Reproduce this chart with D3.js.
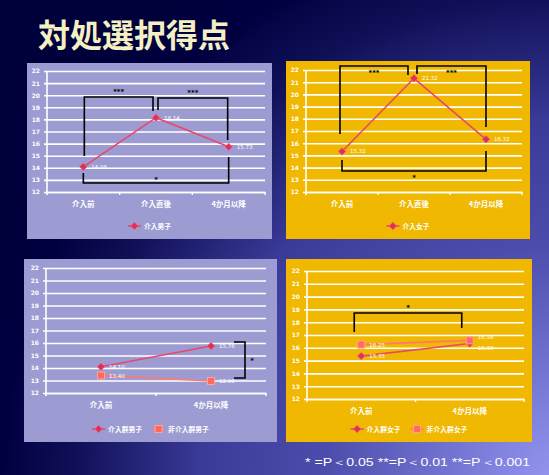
<!DOCTYPE html>
<html><head><meta charset="utf-8">
<script src="https://cdn.jsdelivr.net/npm/d3@7"></script>
<style>html,body{margin:0;padding:0;background:#000040;}svg{display:block;}</style>
</head><body>
<script>
// ---- data ----
const yTicks = [12, 13, 14, 15, 16, 17, 18, 19, 20, 21, 22];
const cats3 = ["介入前", "介入直後", "4か月以降"];
const cats2 = ["介入前", "4か月以降"];
const maleIntervention = [14.08, 18.14, 15.73];
const femaleIntervention = [15.32, 21.32, 16.32];
const maleInterventionGroup = [14.10, 15.76];
const maleControlGroup = [13.40, 12.96];
const femaleInterventionGroup = [15.35, 16.33];
const femaleControlGroup = [16.25, 16.58];
const seriesNames = ["介入男子", "介入女子", "介入群男子", "非介入群男子", "介入群女子", "非介入群女子"];
const title = "対処選択得点";
const footnote = "* =P＜0.05  **=P＜0.01   **=P＜0.001";

const W = 549, H = 475;
const svg = d3.select("body").append("svg").attr("width", W).attr("height", H);
const defs = svg.append("defs");
const rg = defs.append("radialGradient").attr("id", "bg").attr("gradientUnits", "userSpaceOnUse")
  .attr("cx", 560).attr("cy", 480).attr("r", 620);
[[0, "#9696f2"], [0.38, "#4c4cac"], [0.58, "#3a3a98"], [0.78, "#101058"], [0.9, "#000040"], [1, "#00003a"]]
  .forEach(([o, c]) => rg.append("stop").attr("offset", o).attr("stop-color", c));
svg.append("rect").attr("width", W).attr("height", H).attr("fill", "url(#bg)");

svg.append("text").attr("x", 38).attr("y", 47).text(title)
  .attr("font-family", "'Noto Sans CJK JP', sans-serif").attr("font-size", 32).attr("font-weight", 700)
  .attr("fill", "#f4f0c4");

const lavender = "#9c9cd2", gold = "#f0b800";
const redLine = "#e8486a", redMark = "#e0305a";
const sqLine = "#ff7a68", sqFill = "#ff6a5c", sqStroke = "#ffa494";

const panels = [
  { rect: [27, 63, 245, 176], plot: [47, 265, 71, 192], bg: lavender, cats: cats3,
    series: [{ name: seriesNames[0], values: maleIntervention, type: "diamond" }],
    brackets: [
      { c1: 0, d1: 1, e1: 14.98, line: 19.85, c2: 1, d2: -3, e2: 18.69, label: "***", pos: "above" },
      { c1: 1, d1: 2, e1: 18.78, line: 19.77, c2: 2, d2: -1, e2: 16.3, label: "***", pos: "above" },
      { c1: 0, d1: 0, e1: 13.57, line: 12.74, c2: 2, d2: 0, e2: 14.9, label: "*", pos: "on" }
    ] },
  { rect: [286, 61, 244, 178], plot: [306, 522, 70, 192], bg: gold, cats: cats3,
    series: [{ name: seriesNames[1], values: femaleIntervention, type: "diamond" }],
    brackets: [
      { c1: 0, d1: -2, e1: 16.75, line: 22.33, c2: 1, d2: -6, e2: 21.59, label: "***", pos: "below" },
      { c1: 1, d1: 3, e1: 21.67, line: 22.33, c2: 2, d2: 0, e2: 17.33, label: "***", pos: "below" },
      { c1: 0, d1: 0, e1: 14.62, line: 13.72, c2: 2, d2: 0, e2: 15.36, label: "*", pos: "below" }
    ] },
  { rect: [24, 259, 253, 183], plot: [46, 266, 268, 393], bg: lavender, cats: cats2,
    series: [{ name: seriesNames[2], values: maleInterventionGroup, type: "diamond" },
             { name: seriesNames[3], values: maleControlGroup, type: "square" }],
    side: { c: 1, d1: 23, d2: 34, top: 16.08, bottom: 13.2, label: "*" } },
  { rect: [286, 259, 246, 183], plot: [307, 524, 271, 399], bg: gold, cats: cats2,
    series: [{ name: seriesNames[4], values: femaleInterventionGroup, type: "diamond", labelDy: [0, 4] },
             { name: seriesNames[5], values: femaleControlGroup, type: "square", labelDy: [0, -3] }],
    brackets: [
      { c1: 0, d1: -7, e1: 17.23, line: 18.72, c2: 1, d2: -8, e2: 17.55, label: "*", pos: "above" }
    ] }
];

function drawMarker(g, type, x, y) {
  if (type === "diamond") {
    g.append("path").attr("d", d3.symbol().type(d3.symbolSquare).size(28)())
      .attr("transform", `translate(${x},${y}) rotate(45)`).attr("fill", redMark).attr("stroke", "#f0607a").attr("stroke-width", 0.6);
  } else {
    g.append("rect").attr("x", x - 3.5).attr("y", y - 3.5).attr("width", 7).attr("height", 7)
      .attr("fill", sqFill).attr("stroke", sqStroke).attr("stroke-width", 1);
  }
}

panels.forEach(p => {
  const [rx, ry, rw, rh] = p.rect;
  const [x0, x1, yTop, yBot] = p.plot;
  const g = svg.append("g");
  g.append("rect").attr("x", rx).attr("y", ry).attr("width", rw).attr("height", rh).attr("fill", p.bg);

  const x = d3.scaleBand().domain(p.cats).range([x0, x1]);
  const y = d3.scaleLinear().domain([yTicks[0], yTicks[yTicks.length - 1]]).range([yBot, yTop]);
  const cx = (i) => x(p.cats[i]) + x.bandwidth() / 2;

  // gridlines + y axis
  const ya = g.append("g").attr("transform", `translate(${x0},0)`)
    .call(d3.axisLeft(y).tickValues(yTicks).tickSize(-(x1 - x0)).tickSizeOuter(0).tickPadding(7));
  ya.select(".domain").remove();
  ya.selectAll(".tick line").attr("stroke", "#ffffff").attr("stroke-width", 1.6).attr("x1", -3);
  ya.selectAll(".tick text").attr("fill", "#ffffff").attr("font-size", 6).attr("font-weight", 700)
    .attr("font-family", "'DejaVu Sans', sans-serif");
  g.append("line").attr("x1", x0).attr("x2", x0).attr("y1", yTop).attr("y2", yBot + 3)
    .attr("stroke", "#fff").attr("stroke-width", 1.6);

  // x axis
  const xa = g.append("g").attr("transform", `translate(0,${yBot})`)
    .call(d3.axisBottom(x).tickSize(0).tickPadding(10));
  xa.select(".domain").attr("stroke", "#fff").attr("stroke-width", 1.6);
  xa.selectAll(".tick text").attr("fill", "#fff").attr("font-size", 7.5).attr("font-weight", 700)
    .attr("font-family", "'Noto Sans CJK JP', sans-serif");
  p.cats.forEach((c, i) => {
    const bx = x(c) + x.bandwidth();
    g.append("line").attr("x1", bx).attr("x2", bx).attr("y1", yBot).attr("y2", yBot + 3)
      .attr("stroke", "#fff").attr("stroke-width", 1.4);
  });

  // brackets
  (p.brackets || []).forEach(b => {
    const xa1 = cx(b.c1) + b.d1, xa2 = cx(b.c2) + b.d2;
    g.append("path").attr("d", `M${xa1},${y(b.e1)}V${y(b.line)}H${xa2}V${y(b.e2)}`)
      .attr("fill", "none").attr("stroke", "#000").attr("stroke-width", 1.6);
    const ty = b.pos === "above" ? y(b.line) - 3 : b.pos === "on" ? y(b.line) - 1 : y(b.line) + 9;
    g.append("text").attr("x", (xa1 + xa2) / 2).attr("y", ty).attr("text-anchor", "middle")
      .attr("font-size", 7).attr("font-weight", 700).attr("font-family", "'DejaVu Sans', sans-serif")
      .attr("fill", "#000").text(b.label);
  });
  if (p.side) {
    const s = p.side;
    const xs1 = cx(s.c) + s.d1, xs2 = cx(s.c) + s.d2;
    g.append("path").attr("d", `M${xs1},${y(s.top)}H${xs2}V${y(s.bottom)}H${xs1}`)
      .attr("fill", "none").attr("stroke", "#000").attr("stroke-width", 1.6);
    g.append("text").attr("x", xs2 + 7).attr("y", (y(s.top) + y(s.bottom)) / 2 + 3).attr("text-anchor", "middle")
      .attr("font-size", 7).attr("font-weight", 700).attr("font-family", "'DejaVu Sans', sans-serif")
      .attr("fill", "#000").text(s.label);
  }

  // series
  p.series.forEach(s => {
    const line = d3.line().x((d, i) => cx(i)).y(d => y(d));
    g.append("path").datum(s.values).attr("d", line).attr("fill", "none")
      .attr("stroke", s.type === "diamond" ? redLine : sqLine).attr("stroke-width", 1.6);
  });
  p.series.forEach(s => {
    s.values.forEach((v, i) => {
      drawMarker(g, s.type, cx(i), y(v));
      const dy = s.labelDy ? s.labelDy[i] : 0;
      g.append("text").attr("x", cx(i) + 8).attr("y", y(v) + 2 + dy).text(v.toFixed(2))
        .attr("font-size", 5.5).attr("fill", "#fff").attr("font-family", "'DejaVu Sans', sans-serif");
    });
  });

  // legend
  const ly = rh + ry - 13;
  const lg = g.append("g");
  let items = p.series.map(s => ({ s, w: 16 + s.name.length * 6.8 }));
  const gap = 10;
  const total = d3.sum(items, d => d.w) + gap * (items.length - 1);
  let lx = rx + rw / 2 - total / 2;
  items.forEach(it => {
    lg.append("line").attr("x1", lx).attr("x2", lx + 13).attr("y1", ly).attr("y2", ly)
      .attr("stroke", it.s.type === "diamond" ? redLine : sqLine).attr("stroke-width", 1.6);
    drawMarker(lg, it.s.type, lx + 6.5, ly);
    lg.append("text").attr("x", lx + 16).attr("y", ly + 2.5).text(it.s.name)
      .attr("font-size", 6.8).attr("font-weight", 700).attr("fill", "#fff")
      .attr("font-family", "'Noto Sans CJK JP', sans-serif");
    lx += it.w + gap;
  });
});

svg.append("text").attr("x", 305).attr("y", 466).text(footnote)
  .attr("font-size", 11).attr("fill", "#fff").attr("font-family", "'Liberation Sans Narrow', 'Liberation Sans', sans-serif")
  .attr("textLength", 225).attr("lengthAdjust", "spacingAndGlyphs");
</script>
</body></html>
